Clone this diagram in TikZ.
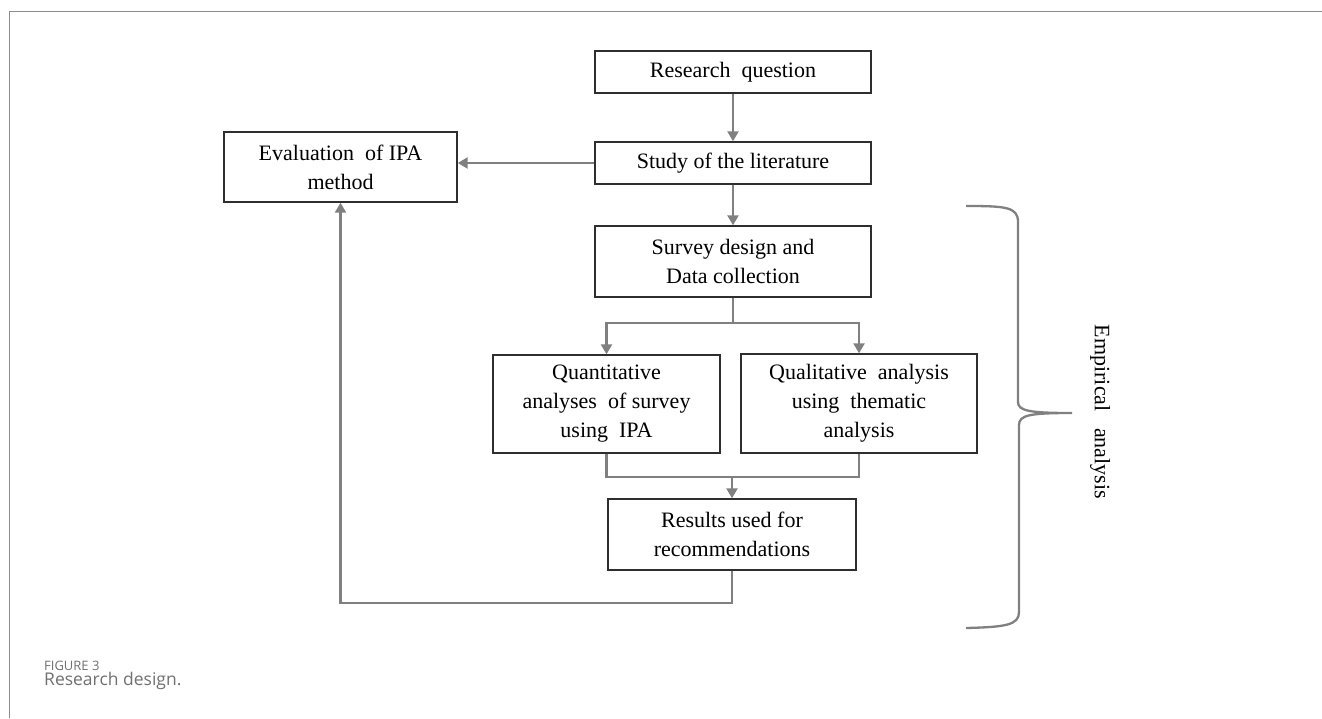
\documentclass[tikz,border=0pt]{standalone}
\usepackage{fontspec}
\setmainfont{Liberation Serif}
\newfontfamily\capfont{Open Sans}
\usetikzlibrary{arrows.meta}
\definecolor{conngray}{HTML}{808080}
\definecolor{boxline}{HTML}{2E2E2E}
\definecolor{capgray}{HTML}{707070}
\newcommand\boxfont{\fontsize{22}{29}\selectfont}
\begin{document}
\begin{tikzpicture}[x=1pt,y=-1pt,
  box/.style={draw=boxline, line width=1.4pt, align=center, inner sep=0pt,
    font=\boxfont},
  conn/.style={draw=conngray, line width=2.3pt, -{Triangle[length=10pt,width=11pt]}},
  plain/.style={draw=conngray, line width=2.3pt},
  frame/.style={draw=black!45, line width=1pt}]
\useasboundingbox (0,0) rectangle (1322,718);
\draw[frame] (9,718) -- (9,11) -- (1322,11);

\node[box, minimum width=276pt, minimum height=42pt] (rq) at (733,72) {Research\ \ question};
\node[box, minimum width=276pt, minimum height=42pt] (lit) at (733,163) {Study of the literature};
\node[box, minimum width=233pt, minimum height=70pt] (eval) at (340.5,167) {Evaluation\ \ of IPA\\method};
\node[box, minimum width=276pt, minimum height=71pt] (survey) at (733,261.5) {Survey design and\\Data collection};
\node[box, minimum width=227pt, minimum height=98pt] (quant) at (606.5,404) {Quantitative\\analyses\ \ of survey\\using\ \ IPA};
\node[box, minimum width=236pt, minimum height=99pt] (qual) at (859,403.5) {Qualitative\ \ analysis\\using\ \ thematic\\analysis\vphantom{y}};
\node[box, minimum width=248pt, minimum height=71pt] (res) at (732,534.5) {Results used for\\recommendations};

\coordinate (sp) at (733,323);
\coordinate (mg) at (732,477);
\coordinate (rb) at (732,603);

\draw[conn] (rq) -- (lit);
\draw[conn] (lit.west) -- (lit.west -| eval.east);
\draw[conn] (lit) -- (survey);
\draw[plain] (survey.south) -- (sp);
\draw[conn] (sp) -| (quant.north);
\draw[conn] (sp) -| (qual.north);
\draw[plain] (quant.south) |- (qual.south |- mg) -- (qual.south);
\draw[conn] (mg) -- (res.north);
\draw[conn] (res.south) -- (rb) -| (eval.south);

\draw[plain] (966,206) .. controls (1006,206) and (1018,207) .. (1018,222)
  -- (1018,402) .. controls (1018,411) and (1030,413) .. (1072,413)
  .. controls (1030,413) and (1019,415) .. (1019,425)
  -- (1019,612) .. controls (1019,625) and (1006,627) .. (966,628);
\node[rotate=-90, font=\boxfont] (emp) at (1100,412) {Empirical\ \ \ analysis};

\node[anchor=base west, inner sep=0pt, text=capgray, font=\capfont\fontsize{13}{15}\selectfont] (fig) at (44,670) {FIGURE 3};
\node[anchor=base west, inner sep=0pt, text=capgray, font=\capfont\fontsize{17.5}{20}\selectfont] (cap) at (44,685) {Research design.};
\end{tikzpicture}
\end{document}
